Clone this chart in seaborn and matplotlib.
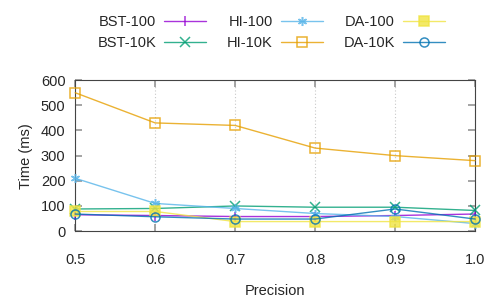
import matplotlib
matplotlib.use('Agg')
import matplotlib.pyplot as plt
import seaborn as sns
import pandas as pd

# valores
precisao = [0.5, 0.6, 0.7, 0.8, 0.9, 1.0]
bst_100 = [65, 62, 58, 58, 62, 68]
bst_10k = [88, 90, 100, 95, 95, 82]
hi_100 = [210, 110, 90, 70, 58, 30]
hi_10k = [550, 430, 420, 330, 300, 280]
da_100 = [78, 78, 38, 38, 38, 38]
da_10k = [68, 57, 48, 48, 88, 48]

series = ['BST-100', 'BST-10K', 'HI-100', 'HI-10K', 'DA-100', 'DA-10K']
valores = [bst_100, bst_10k, hi_100, hi_10k, da_100, da_10k]
cores = ['#9400d3', '#009e73', '#56b4e9', '#e69f00', '#f0e442', '#0072b2']
marcadores = ['|', 'x', (6, 2, 0), 's', 's', 'o']
preenchido = [True, True, True, False, True, False]

df = pd.DataFrame({
    'Precision': precisao * len(series),
    'Time': sum(valores, []),
    'Serie': [s for s in series for _ in precisao],
})

sns.set_theme(style='ticks')
plt.rcParams['font.family'] = ['Liberation Sans', 'DejaVu Sans']
fs = 10.5

fig, ax = plt.subplots(figsize=(4.98, 2.99), dpi=100)
fig.subplots_adjust(left=0.151, right=0.954, top=0.732, bottom=0.227)

for nome, cor, mk, cheio in zip(series, cores, marcadores, preenchido):
    sub = df[df['Serie'] == nome]
    sns.lineplot(data=sub, x='Precision', y='Time', ax=ax, color=cor,
                 marker=mk, markersize=6.5, linewidth=1.0, alpha=0.8,
                 markerfacecolor=cor if cheio else 'none',
                 markeredgecolor=cor, markeredgewidth=1.1, label=nome,
                 clip_on=False, zorder=3)

ax.set_xlim(0.5, 1.0)
ax.set_ylim(0, 600)
ax.set_xticks(precisao)
ax.set_xticklabels(['0.5', '0.6', '0.7', '0.8', '0.9', '1.0'])
ax.set_yticks(range(0, 601, 100))
ax.tick_params(direction='in', top=True, right=True, labelsize=fs, length=5,
               color='#999999')
ax.tick_params(axis='y', pad=7)
ax.tick_params(axis='x', pad=16)
ax.xaxis.grid(True, linestyle=(0, (1, 2)), color='#c8c8c8', linewidth=0.8)
ax.set_xlabel('Precision', fontsize=fs, labelpad=12)
ax.set_ylabel('Time (ms)', fontsize=fs, labelpad=6)
for s in ax.spines.values():
    s.set_color('#444444')
    s.set_linewidth(0.8)

ax.legend(ncol=3, loc='lower center', bbox_to_anchor=(0.49, 1.15),
          frameon=False, markerfirst=False, fontsize=fs,
          handlelength=2.9, columnspacing=1.4, labelspacing=0.5,
          handletextpad=0.55, borderpad=0)

fig.savefig('out.png', dpi=100)
